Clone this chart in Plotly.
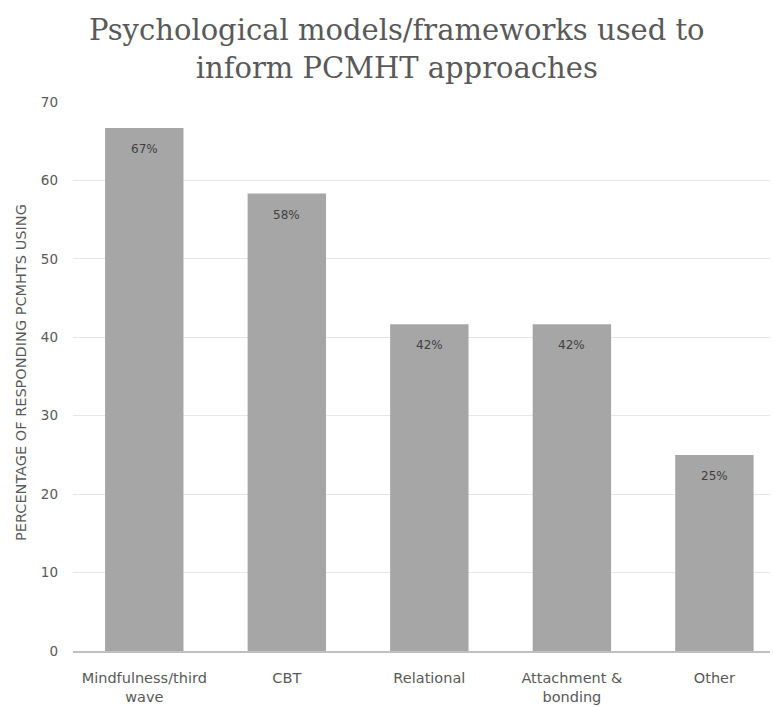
import plotly.graph_objects as go

categories = ["Mindfulness/third<br>wave", "CBT", "Relational", "Attachment &<br>bonding", "Other"]
values = [66.67, 58.33, 41.67, 41.67, 25.0]
labels = ["67%", "58%", "42%", "42%", "25%"]
y_ticks = [0, 10, 20, 30, 40, 50, 60, 70]

W, H = 773, 707
ml, mr, mt, mb = 73, 3, 102, 56
ph = H - mt - mb

fig = go.Figure(go.Bar(
    x=categories, y=values,
    marker=dict(color="#a6a6a6", line=dict(width=0)),
    width=0.55,
))

annotations = [
    dict(x=c, y=v, text=t, xref="x", yref="y", showarrow=False,
         yanchor="middle", yshift=-21,
         font=dict(family="DejaVu Sans", size=12, color="#404040"))
    for c, v, t in zip(categories, values, labels)
]
annotations.append(dict(
    text="Psychological models/frameworks used to<br>inform PCMHT approaches",
    xref="paper", yref="paper",
    x=(397 - ml) / (W - ml - mr), y=(H - mb - 11) / ph,
    xanchor="center", yanchor="top", showarrow=False,
    font=dict(family="DejaVu Serif", size=29, color="#595959"),
))
annotations.append(dict(
    text="PERCENTAGE OF RESPONDING PCMHTS USING",
    textangle=-90, xref="paper", yref="paper",
    x=(21 - ml) / (W - ml - mr), y=(H - mb - 373) / ph,
    xanchor="center", yanchor="middle", showarrow=False,
    font=dict(family="DejaVu Sans", size=14.5, color="#595959"),
))

fig.update_layout(
    width=W, height=H,
    margin=dict(l=ml, r=mr, t=mt, b=mb),
    paper_bgcolor="white", plot_bgcolor="white",
    showlegend=False,
    xaxis=dict(
        range=[-0.5, 4.39],
        showgrid=False, showline=True, linecolor="#bfbfbf", linewidth=1.5,
        ticks="", ticklabelstandoff=13,
        tickfont=dict(family="DejaVu Sans", size=14.5, color="#595959"),
    ),
    yaxis=dict(
        range=[0, 70], tickvals=y_ticks,
        showgrid=True, gridcolor="#e6e6e6", gridwidth=1,
        zeroline=False, showline=False, ticks="",
        ticklabelstandoff=14,
        tickfont=dict(family="DejaVu Sans", size=13.5, color="#595959"),
    ),
    annotations=annotations,
)

fig.write_html("out.html")
